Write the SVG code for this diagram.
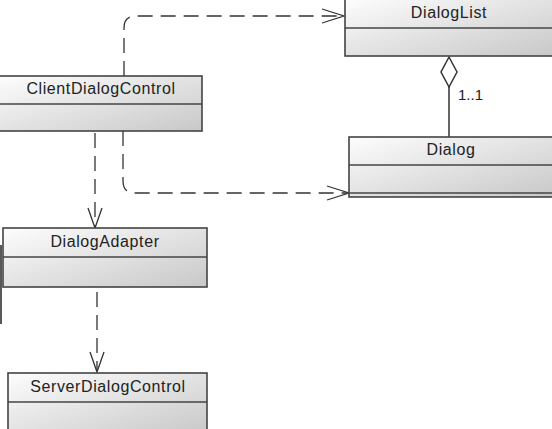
<svg xmlns="http://www.w3.org/2000/svg" width="552" height="429" viewBox="0 0 552 429">
<defs>
<linearGradient id="g" x1="0" y1="0" x2="1" y2="1">
<stop offset="0" stop-color="#fdfdfd"/>
<stop offset="1" stop-color="#c8c8c8"/>
</linearGradient>
<style>
.box{fill:url(#g);stroke:#444;stroke-width:1.6}
.div{stroke:#444;stroke-width:1.6}
.t{font-family:"Liberation Sans",Arial,sans-serif;font-size:16px;fill:#222;text-anchor:middle;letter-spacing:0.6px}
.dash{fill:none;stroke:#333;stroke-width:1.3;stroke-dasharray:15 8}
.head{fill:none;stroke:#333;stroke-width:1.3}
.solid{fill:none;stroke:#333;stroke-width:1.5}
</style>
</defs>
<rect width="552" height="429" fill="#fff"/>
<line x1="1" y1="245" x2="1" y2="324" stroke="#222" stroke-width="1.5"/>
<g id="connectors">
<path class="dash" d="M124,76 V28 Q124,16 136,16 H342"/>
<path class="head" d="M322,9 L344,16 L322,23"/>
<path class="dash" d="M123,131 V181 Q123,193 135,193 H347"/>
<path class="head" d="M327,186 L349,193 L327,200"/>
<path class="dash" d="M95,133 V226"/>
<path class="head" d="M88,208 L95,228 L102,208"/>
<path class="dash" d="M97,292 V370"/>
<path class="head" d="M90,352 L97,372 L104,352"/>
<path class="solid" d="M449,86 V137"/>
<path class="solid" fill="#fff" d="M449,57 L457,72 L449,87 L441,72 Z"/>
<text class="t" x="458" y="100" style="text-anchor:start;letter-spacing:0;font-size:15px">1..1</text>
</g>
<g id="DialogList">
<rect class="box" x="345" y="-1" width="208" height="57"/>
<line class="div" x1="345" y1="28" x2="553" y2="28"/>
<text class="t" x="449" y="18">DialogList</text>
</g>
<g id="ClientDialogControl">
<rect class="box" x="-1" y="76" width="203" height="55"/>
<line class="div" x1="-1" y1="104" x2="202" y2="104"/>
<text class="t" x="101" y="94">ClientDialogControl</text>
</g>
<g id="Dialog">
<rect class="box" x="349" y="137" width="204" height="60"/>
<line class="div" x1="349" y1="165" x2="553" y2="165"/>
<line class="div" x1="349" y1="193" x2="553" y2="193"/>
<text class="t" x="451" y="155">Dialog</text>
</g>
<g id="DialogAdapter">
<rect class="box" x="3" y="228" width="204" height="59"/>
<line class="div" x1="3" y1="257" x2="207" y2="257"/>
<text class="t" x="105" y="247">DialogAdapter</text>
</g>
<g id="ServerDialogControl">
<rect class="box" x="8" y="373" width="199" height="60"/>
<line class="div" x1="8" y1="402" x2="207" y2="402"/>
<text class="t" x="108" y="392">ServerDialogControl</text>
</g>
</svg>
